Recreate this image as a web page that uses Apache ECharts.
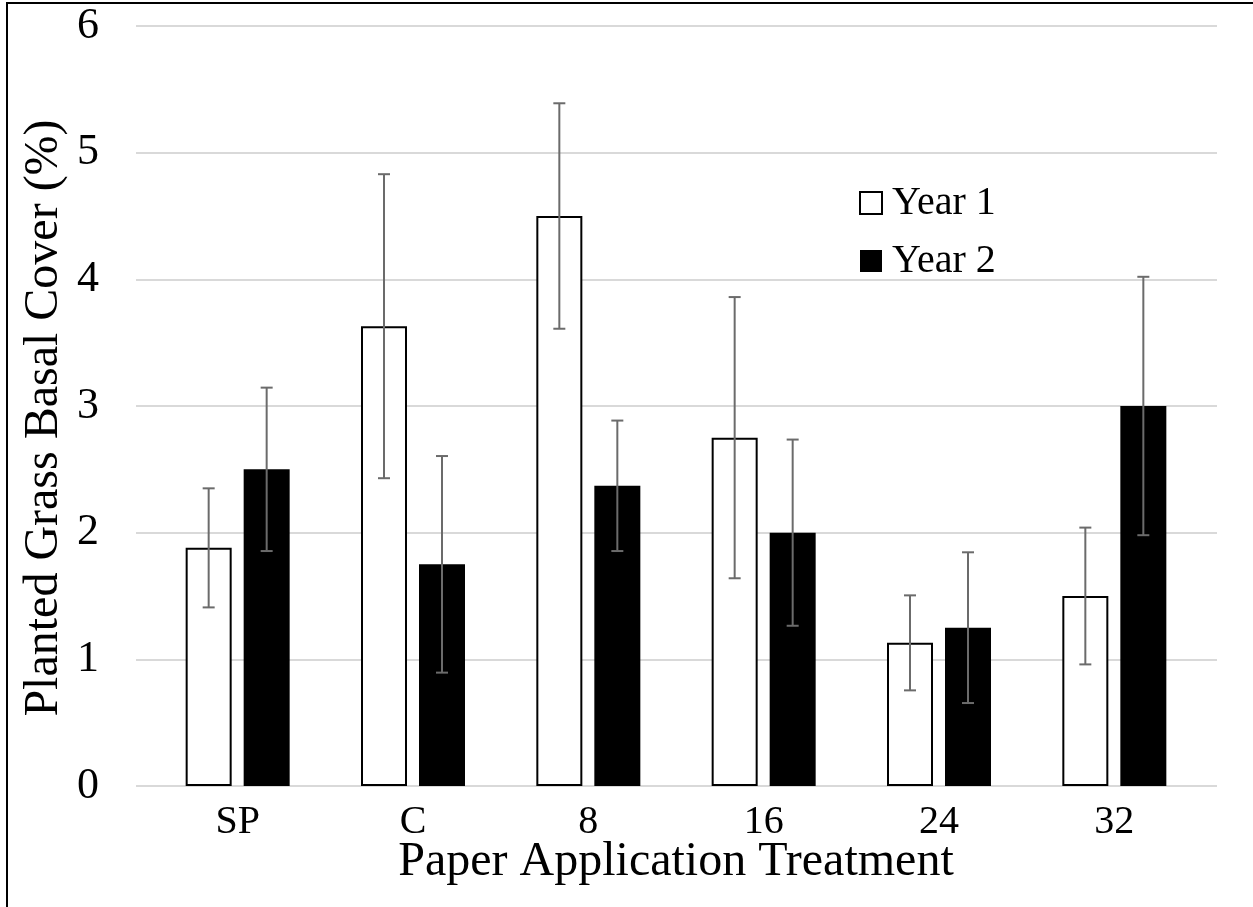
<!DOCTYPE html>
<html>
<head>
<meta charset="utf-8">
<script src="https://cdn.jsdelivr.net/npm/echarts@6/dist/echarts.min.js"></script>
<style>
html,body{margin:0;padding:0;background:#fff;}
#chart{width:1253px;height:907px;}
</style>
</head>
<body>
<div id="chart"></div>
<script>
// ---- data ----
var categories = ['SP', 'C', '8', '16', '24', '32'];
var seriesNames = ['Year 1', 'Year 2'];
var year1 = [1.88, 3.63, 4.50, 2.75, 1.13, 1.50];
var year2 = [2.50, 1.75, 2.37, 2.00, 1.25, 3.00];
var err1 = [0.47, 1.20, 0.89, 1.11, 0.375, 0.54];
var err2 = [0.645, 0.855, 0.515, 0.735, 0.595, 1.02];
var yTicks = [0, 1, 2, 3, 4, 5, 6];

var FONT = '"Liberation Serif", "Times New Roman", serif';
var BAR_W = 46, BAR_GAP = 12;

function errSeries(vals, errs, side) {
  var data = vals.map(function (v, i) { return [i, v, errs[i]]; });
  return {
    type: 'custom',
    xAxisIndex: 1, yAxisIndex: 1,
    z: 10,
    silent: true,
    data: data,
    renderItem: function (params, api) {
      var i = api.value(0), v = api.value(1), e = api.value(2);
      var off = side * (BAR_W + BAR_GAP) / 2;
      var hi = api.coord([i, v + e]);
      var lo = api.coord([i, v - e]);
      var x = hi[0] + off;
      var cw = 6;
      var st = { stroke: '#6b6b6b', lineWidth: 2 };
      return {
        type: 'group',
        children: [
          { type: 'line', shape: { x1: x, y1: hi[1], x2: x, y2: lo[1] }, style: st },
          { type: 'line', shape: { x1: x - cw, y1: hi[1], x2: x + cw, y2: hi[1] }, style: st },
          { type: 'line', shape: { x1: x - cw, y1: lo[1], x2: x + cw, y2: lo[1] }, style: st }
        ]
      };
    }
  };
}

var chart = echarts.init(document.getElementById('chart'));
chart.setOption({
  animation: false,
  backgroundColor: '#ffffff',
  textStyle: { fontFamily: FONT },
  grid: [
    { left: 136, right: 36, top: 26, bottom: 121 },
    { left: 150, right: 51, top: 26, bottom: 121 }
  ],
  xAxis: [
    { type: 'category', gridIndex: 0, data: categories, show: false },
    {
      type: 'category', gridIndex: 1, data: categories,
      axisLine: { show: false }, axisTick: { show: false },
      axisLabel: { fontFamily: FONT, fontSize: 40, color: '#000', margin: 16 },
      name: 'Paper Application Treatment',
      nameLocation: 'middle', nameGap: 52, nameMoveOverlap: false,
      nameTextStyle: { fontFamily: FONT, fontSize: 48, color: '#000' }
    }
  ],
  yAxis: [
    {
      type: 'value', gridIndex: 0, min: yTicks[0], max: yTicks[yTicks.length - 1], interval: 1,
      axisLine: { show: false }, axisTick: { show: false },
      splitLine: { show: true, lineStyle: { color: '#d9d9d9', width: 2 } },
      axisLabel: { fontFamily: FONT, fontSize: 44, color: '#000', margin: 37 },
      name: 'Planted Grass Basal Cover (%)',
      nameLocation: 'middle', nameGap: 68, nameMoveOverlap: false,
      nameTextStyle: { fontFamily: FONT, fontSize: 48, color: '#000', padding: [0, 24, 0, 0] }
    },
    {
      type: 'value', gridIndex: 1, min: yTicks[0], max: yTicks[yTicks.length - 1], interval: 1,
      show: false, splitLine: { show: false }
    }
  ],
  legend: {
    orient: 'vertical',
    left: 854, top: 177,
    itemWidth: 22, itemHeight: 22,
    itemGap: 16,
    icon: 'rect',
    textStyle: { fontFamily: FONT, fontSize: 40, color: '#000', lineHeight: 42, padding: [0, 0, 0, 5] },
    data: seriesNames
  },
  series: [
    {
      name: seriesNames[0], type: 'bar', xAxisIndex: 1, yAxisIndex: 1,
      data: year1, barWidth: BAR_W, barGap: (BAR_GAP / BAR_W * 100) + '%',
      itemStyle: { color: '#ffffff', borderColor: '#000000', borderWidth: 2 }
    },
    {
      name: seriesNames[1], type: 'bar', xAxisIndex: 1, yAxisIndex: 1,
      data: year2, barWidth: BAR_W, barGap: (BAR_GAP / BAR_W * 100) + '%',
      itemStyle: { color: '#000000' }
    },
    errSeries(year1, err1, -1),
    errSeries(year2, err2, 1)
  ],
  graphic: [
    { type: 'line', shape: { x1: 7, y1: 3, x2: 7, y2: 907 }, style: { stroke: '#000', lineWidth: 2 } },
    { type: 'line', shape: { x1: 6, y1: 3, x2: 1253, y2: 3 }, style: { stroke: '#000', lineWidth: 2 } }
  ]
});
</script>
</body>
</html>
